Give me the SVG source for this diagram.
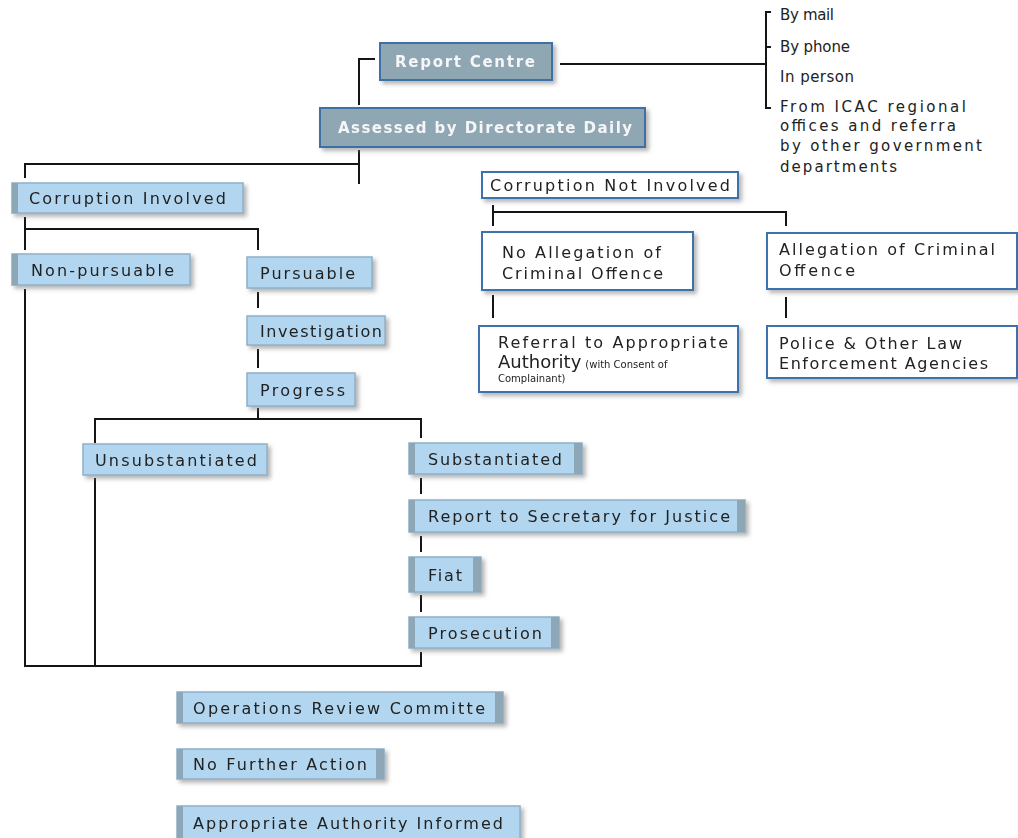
<svg xmlns="http://www.w3.org/2000/svg" width="1018" height="838" viewBox="0 0 1018 838">
<defs>
<filter id="sh" x="-10%" y="-20%" width="130%" height="160%">
<feDropShadow dx="3" dy="3" stdDeviation="2" flood-color="#777" flood-opacity="0.55"/>
</filter>
<style>
text{font-family:"DejaVu Sans","Liberation Sans",Arial,sans-serif;font-size:16px;fill:#222}
.dk{fill:#8fa6b3;stroke:#3e6fa3;stroke-width:2}
.dkt{fill:#f4f6f8;font-weight:bold;font-size:15px}
.lb{fill:#b2d6ef;stroke:#8fb0c8;stroke-width:1.5}
.st{fill:#8ea7b7}
.wb{fill:#fff;stroke:#3c72ad;stroke-width:2}
.cn{fill:none;stroke:#151515;stroke-width:2}
.src{font-size:15px}
.sm{font-size:10px}
.big{font-size:18px}
</style>
</defs>
<rect width="1018" height="838" fill="#fff"/>
<g id="connectors">
<path class="cn" d="M375,59 H359 V105"/>
<path class="cn" d="M560,64 H766"/>
<path class="cn" d="M771,12 H766 V108 H771 M766,47 H771"/>
<path class="cn" d="M359,150 V184 M25,178 V164 H359"/>
<path class="cn" d="M25,217 V250 M25,229 H258 V250"/>
<path class="cn" d="M258,292 V308 M258,349 V368 M258,408 V419 M95,443 V419 H421 V438"/>
<path class="cn" d="M421,478 V494 M421,536 V552 M421,595 V612 M421,652 V666 H25 V289 M95,478 V666"/>
<path class="cn" d="M493,205 V226 M493,212 H786 V226"/>
<path class="cn" d="M493,295 V318 M786,297 V318"/>
</g>
<g id="report-centre" filter="url(#sh)"><rect class="dk" x="380" y="43" width="172" height="37"/><text class="dkt" x="395" y="67" textLength="140" lengthAdjust="spacing">Report Centre</text></g>
<g id="assessed" filter="url(#sh)"><rect class="dk" x="320" y="108" width="325" height="39"/><text class="dkt" x="338" y="133" textLength="294" lengthAdjust="spacing">Assessed by Directorate Daily</text></g>
<g id="sources">
<text class="src" x="780" y="20" textLength="54" lengthAdjust="spacing">By mail</text>
<text class="src" x="780" y="52" textLength="70" lengthAdjust="spacing">By phone</text>
<text class="src" x="780" y="82" textLength="74" lengthAdjust="spacing">In person</text>
<text class="src" x="780" y="112" textLength="186" lengthAdjust="spacing">From ICAC regional</text>
<text class="src" x="780" y="131" textLength="176" lengthAdjust="spacing">offices and referra</text>
<text class="src" x="780" y="151" textLength="202" lengthAdjust="spacing">by other government</text>
<text class="src" x="780" y="172" textLength="117" lengthAdjust="spacing">departments</text>
</g>
<g id="corruption-involved" filter="url(#sh)"><rect class="lb" x="12" y="183" width="231" height="30"/><rect class="st" x="12" y="183" width="6" height="30"/><text x="29" y="204" textLength="197" lengthAdjust="spacing">Corruption Involved</text></g>
<g id="non-pursuable" filter="url(#sh)"><rect class="lb" x="12" y="254" width="178" height="31"/><rect class="st" x="12" y="254" width="6" height="31"/><text x="31" y="276" textLength="143" lengthAdjust="spacing">Non-pursuable</text></g>
<g id="pursuable" filter="url(#sh)"><rect class="lb" x="247" y="257" width="125" height="31"/><text x="260" y="279" textLength="95" lengthAdjust="spacing">Pursuable</text></g>
<g id="investigation" filter="url(#sh)"><rect class="lb" x="247" y="316" width="138" height="29"/><text x="260" y="337" textLength="122" lengthAdjust="spacing">Investigation</text></g>
<g id="progress" filter="url(#sh)"><rect class="lb" x="247" y="373" width="108" height="33"/><text x="260" y="396" textLength="85" lengthAdjust="spacing">Progress</text></g>
<g id="corruption-not-involved" filter="url(#sh)"><rect class="wb" x="482" y="172" width="256" height="26"/><text x="490" y="191" textLength="240" lengthAdjust="spacing">Corruption Not Involved</text></g>
<g id="no-allegation" filter="url(#sh)"><rect class="wb" x="482" y="232" width="211" height="58"/><text x="502" y="258" textLength="159" lengthAdjust="spacing">No Allegation of</text><text x="502" y="279" textLength="161" lengthAdjust="spacing">Criminal Offence</text></g>
<g id="allegation" filter="url(#sh)"><rect class="wb" x="767" y="233" width="250" height="56"/><text x="779" y="255" textLength="216" lengthAdjust="spacing">Allegation of Criminal</text><text x="779" y="276" textLength="76" lengthAdjust="spacing">Offence</text></g>
<g id="referral" filter="url(#sh)"><rect class="wb" x="479" y="326" width="259" height="66"/><text x="498" y="348" textLength="230" lengthAdjust="spacing">Referral to Appropriate</text><text x="498" y="368"><tspan class="big">Authority</tspan><tspan class="sm" dx="4">(with Consent of</tspan></text><text class="sm" x="498" y="382">Complainant)</text></g>
<g id="police" filter="url(#sh)"><rect class="wb" x="767" y="326" width="250" height="52"/><text x="779" y="349" textLength="183" lengthAdjust="spacing">Police &amp; Other Law</text><text x="779" y="369" textLength="209" lengthAdjust="spacing">Enforcement Agencies</text></g>
<g id="unsubstantiated" filter="url(#sh)"><rect class="lb" x="83" y="444" width="184" height="31"/><text x="95" y="466" textLength="162" lengthAdjust="spacing">Unsubstantiated</text></g>
<g id="substantiated" filter="url(#sh)"><rect class="lb" x="409" y="443" width="173" height="31"/><rect class="st" x="409" y="443" width="6" height="31"/><rect class="st" x="574" y="443" width="8" height="31"/><text x="428" y="465" textLength="134" lengthAdjust="spacing">Substantiated</text></g>
<g id="report-justice" filter="url(#sh)"><rect class="lb" x="409" y="500" width="336" height="32"/><rect class="st" x="409" y="500" width="6" height="32"/><rect class="st" x="737" y="500" width="8" height="32"/><text x="428" y="522" textLength="302" lengthAdjust="spacing">Report to Secretary for Justice</text></g>
<g id="fiat" filter="url(#sh)"><rect class="lb" x="409" y="557" width="72" height="35"/><rect class="st" x="409" y="557" width="6" height="35"/><rect class="st" x="473" y="557" width="8" height="35"/><text x="428" y="581" textLength="34" lengthAdjust="spacing">Fiat</text></g>
<g id="prosecution" filter="url(#sh)"><rect class="lb" x="409" y="617" width="150" height="31"/><rect class="st" x="409" y="617" width="6" height="31"/><rect class="st" x="551" y="617" width="8" height="31"/><text x="428" y="639" textLength="114" lengthAdjust="spacing">Prosecution</text></g>
<g id="operations-review" filter="url(#sh)"><rect class="lb" x="177" y="692" width="326" height="31"/><rect class="st" x="177" y="692" width="6" height="31"/><rect class="st" x="495" y="692" width="8" height="31"/><text x="193" y="714" textLength="292" lengthAdjust="spacing">Operations Review Committe</text></g>
<g id="no-further-action" filter="url(#sh)"><rect class="lb" x="177" y="749" width="207" height="30"/><rect class="st" x="177" y="749" width="6" height="30"/><rect class="st" x="376" y="749" width="8" height="30"/><text x="193" y="770" textLength="174" lengthAdjust="spacing">No Further Action</text></g>
<g id="authority-informed" filter="url(#sh)"><rect class="lb" x="177" y="806" width="343" height="34"/><rect class="st" x="177" y="806" width="6" height="34"/><text x="193" y="829" textLength="310" lengthAdjust="spacing">Appropriate Authority Informed</text></g>
</svg>
